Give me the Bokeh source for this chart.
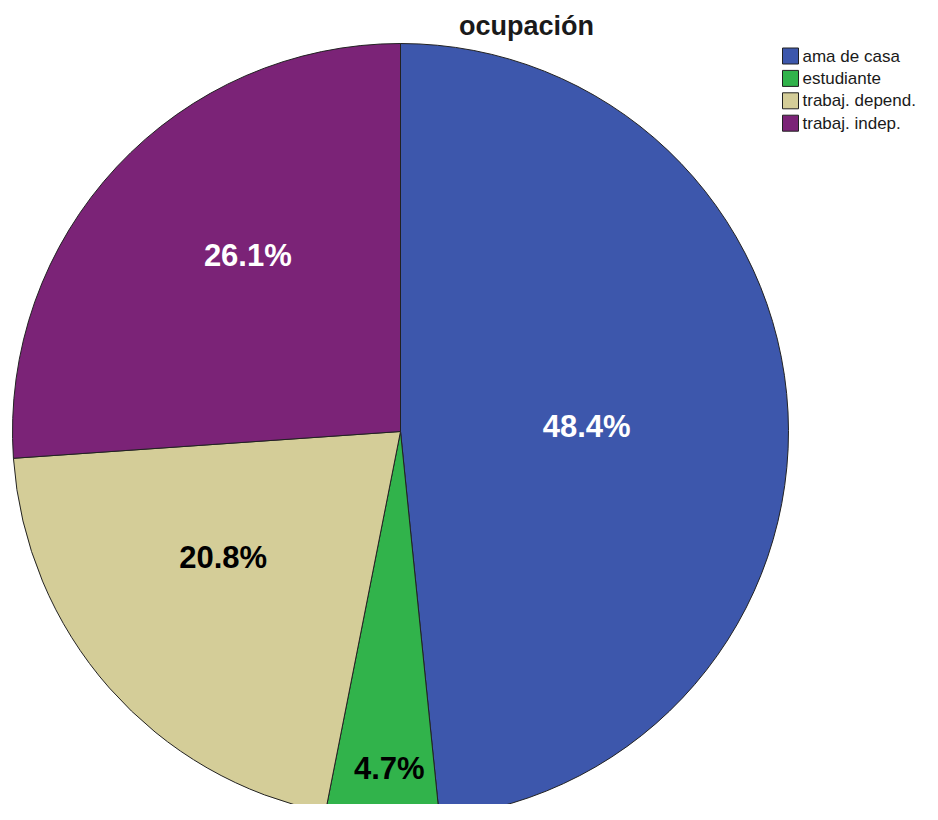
import math
from bokeh.plotting import figure
from bokeh.models import Range1d, ColumnDataSource
from bokeh.core.properties import value
from bokeh.embed import file_html
from bokeh.resources import INLINE

# ---- data ----
title_text = "ocupación"
categories = ["ama de casa", "estudiante", "trabaj. depend.", "trabaj. indep."]
percents = [48.4, 4.7, 20.8, 26.1]
colors = ["#3D57AC", "#31B34B", "#D4CD98", "#7B2377"]
label_colors = ["white", "black", "black", "white"]

# ---- layout (pixel-space coordinates, y measured downward from page top) ----
W, H = 922, 804
cx, cy, R = 400, 431, 388
label_r = [0.48, 0.87, 0.56, 0.60]
label_dangle = [-1.4, 0.8, -6.1, -6.0]

p = figure(width=W, height=H, output_backend="svg", toolbar_location=None,
           x_range=Range1d(0, W), y_range=Range1d(-H, 0),
           min_border=0, outline_line_color=None)
p.axis.visible = False
p.grid.visible = False
p.background_fill_color = "white"
p.border_fill_color = "white"

starts, ends, lx, ly, labels = [], [], [], [], []
cum = 0.0
for i, pc in enumerate(percents):
    a0 = 90 - cum / 100 * 360
    cum += pc
    a1 = 90 - cum / 100 * 360
    starts.append(math.radians(a0))
    ends.append(math.radians(a1))
    mid = math.radians((a0 + a1) / 2 + label_dangle[i])
    lx.append(cx + R * label_r[i] * math.cos(mid))
    ly.append(-cy + R * label_r[i] * math.sin(mid))
    labels.append(f"{pc:.1f}%")

src = ColumnDataSource(dict(cat=categories, start=starts, end=ends, color=colors,
                            lx=lx, ly=ly, label=labels, lc=label_colors))

p.wedge(x=cx, y=-cy, radius=R, start_angle="start", end_angle="end",
        direction="clock", fill_color="color", line_color="#222222",
        line_width=1, source=src)

p.text(x="lx", y="ly", text="label", text_color="lc", source=src,
       text_font=value("Liberation Sans"), text_font_style="bold",
       text_font_size="31px", text_align="center", text_baseline="middle")

# title
p.text(x=[526], y=[-25], text=[title_text], text_font=value("Liberation Sans"),
       text_font_style="bold", text_font_size="27px", text_color="#1a1a1a",
       text_align="center", text_baseline="middle")

# legend
leg_y = [-(55.5 + i * 22.4) for i in range(len(categories))]
leg = ColumnDataSource(dict(y=leg_y, color=colors, cat=categories))
p.rect(x=790, y="y", width=16, height=16, fill_color="color",
       line_color="#222222", line_width=1, source=leg)
p.text(x=802, y="y", text="cat", source=leg, text_font=value("Liberation Sans"),
       text_font_size="17px", text_color="#1a1a1a", text_align="left",
       text_baseline="middle")

open("out.html", "w").write(file_html(p, INLINE))
